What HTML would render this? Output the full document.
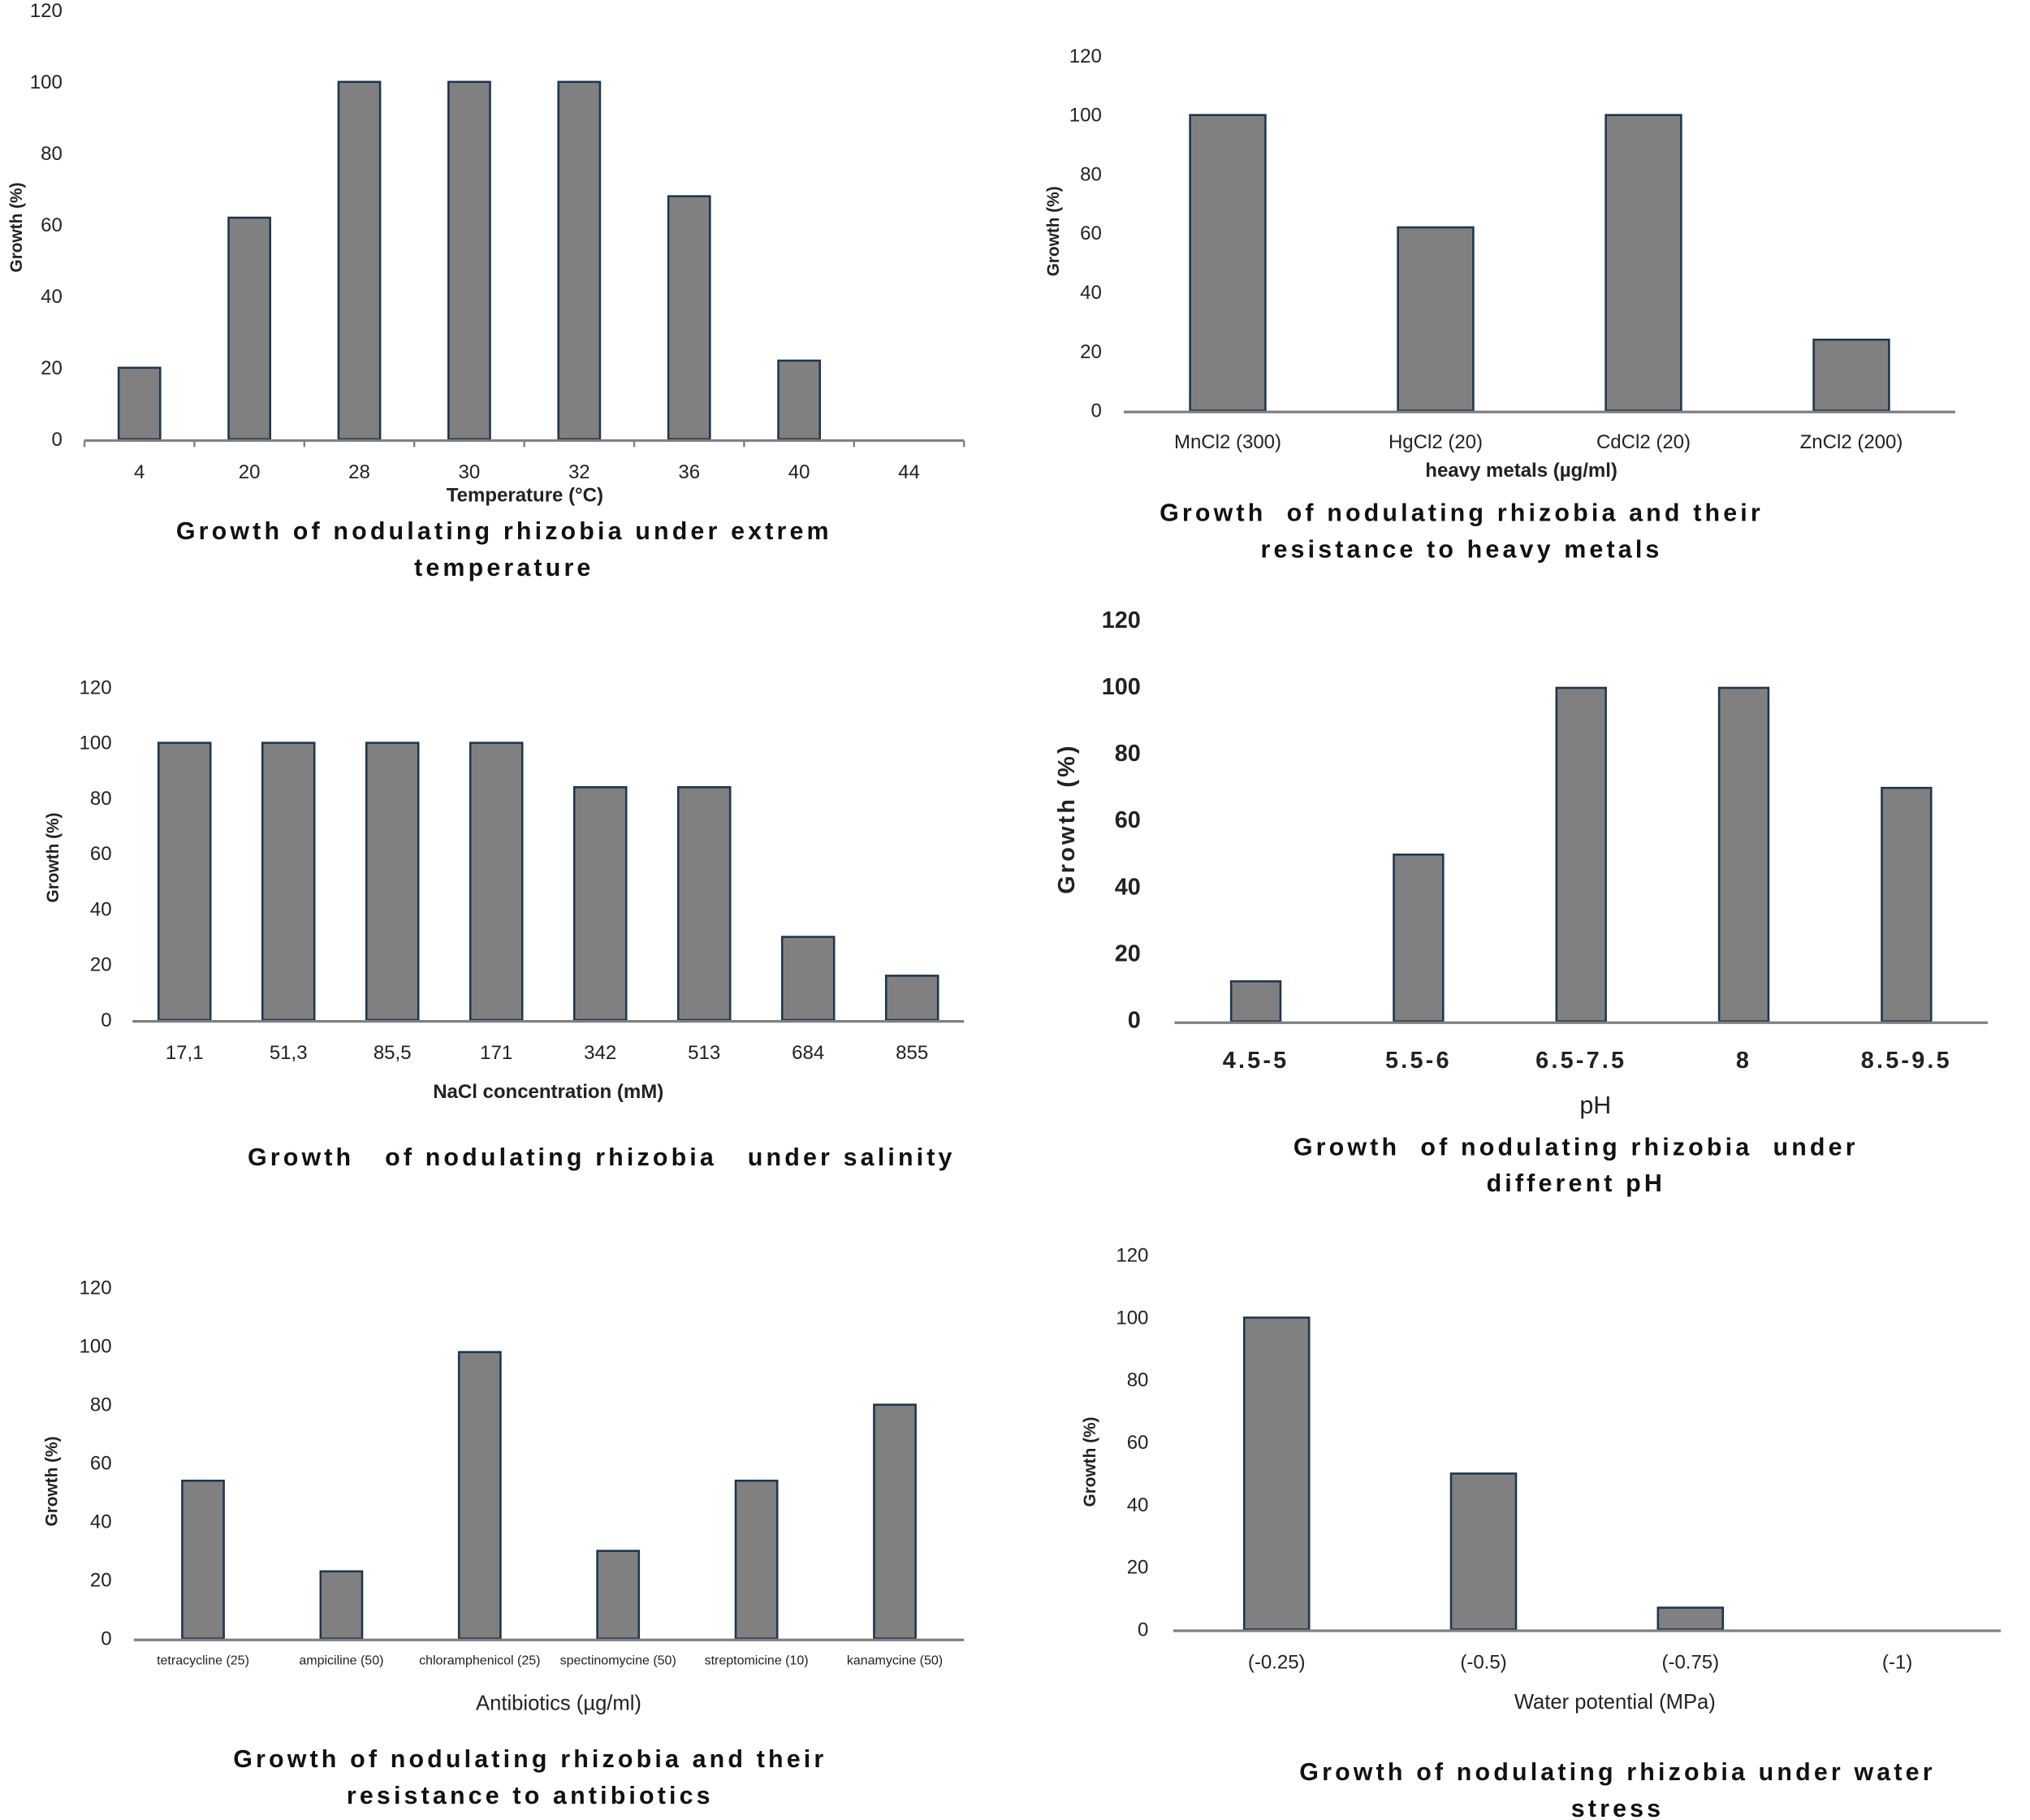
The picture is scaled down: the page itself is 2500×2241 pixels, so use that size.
<!DOCTYPE html>
<html><head><meta charset="utf-8"><style>
html,body{margin:0;padding:0;background:#fff;}
svg{display:block;font-family:"Liberation Sans",sans-serif;}
svg text{white-space:pre;}
</style></head><body>
<svg id="fig" width="2500" height="2241" viewBox="0 0 1562.5 1400.6" xmlns="http://www.w3.org/2000/svg"></svg>
<script>
const tempCats=["4","20","28","30","32","36","40","44"];
const tempVals=[20,62,100,100,100,68,22,0];
const metalCats=["MnCl2 (300)","HgCl2 (20)","CdCl2 (20)","ZnCl2 (200)"];
const metalVals=[100,62,100,24];
const saltCats=["17,1","51,3","85,5","171","342","513","684","855"];
const saltVals=[100,100,100,100,84,84,30,16];
const phCats=["4.5-5","5.5-6","6.5-7.5","8","8.5-9.5"];
const phVals=[12,50,100,100,70];
const abCats=["tetracycline (25)","ampiciline (50)","chloramphenicol (25)","spectinomycine (50)","streptomicine (10)","kanamycine (50)"];
const abVals=[54,23,98,30,54,80];
const waterCats=["(-0.25)","(-0.5)","(-0.75)","(-1)"];
const waterVals=[100,50,7,0];
const yTicks=[0,20,40,60,80,100,120];

const svg=document.getElementById('fig');
const NS="http://www.w3.org/2000/svg";
function mk(tag,attrs,parent,text){const e=document.createElementNS(NS,tag);for(const k in attrs)e.setAttribute(k,attrs[k]);if(text!==undefined)e.textContent=text;parent.appendChild(e);return e;}

function panel(p){
  const g=mk('g',{},svg);
  
  
  const y=v=>p.y0-(v/120)*(p.y0-p.y120);
  const step=(p.x1-p.x0)/p.cats.length;
  const x=i=>p.x0+step*(i+0.5);
  yTicks.forEach(t=>{
    const tl=mk('text',{x:p.tickX,y:y(t)+5,'text-anchor':'end','font-size':p.tfs,'font-weight':p.boldTicks?'bold':'normal',fill:'#222'},g,String(t));
    
    
  });
  p.vals.forEach((v,i)=>{
    if(v<=0)return;
    const r=mk('rect',{x:x(i)-p.bw/2,y:y(v),width:p.bw,height:y(0)-y(v),fill:'#808080',stroke:'#1f3550','stroke-width':1.6},g);
    
    
  });
  const ax=mk('line',{x1:p.x0,x2:p.x1,y1:y(0)+1,y2:y(0)+1,stroke:'#808080','stroke-width':2},g);
  
  
  if(p.ticks){for(let i=0;i<=p.cats.length;i++){mk('line',{x1:p.x0+step*i,x2:p.x0+step*i,y1:y(0)+1,y2:y(0)+6,stroke:'#808080','stroke-width':1.5},g);}}
  p.cats.forEach((c,i)=>{
    const t=mk('text',{x:x(i),y:p.labY,'text-anchor':'middle','font-size':p.lfs,'font-weight':p.boldTicks?'bold':'normal','letter-spacing':p.boldTicks?2:0,fill:'#222'},g,c);
    
    
  });
  const at=mk('text',{x:p.axX,y:p.axY,'text-anchor':'middle','font-size':p.afs,'font-weight':p.axBold?'bold':'normal',fill:'#222'},g,p.axTitle);
  
  
  const yt=mk('text',{x:0,y:0,transform:`translate(${p.ytX},${p.ytY}) rotate(-90)`,'text-anchor':'middle','font-size':p.yfs,'font-weight':'bold','letter-spacing':p.boldTicks?2:0,fill:'#222'},g,'Growth (%)');
  
  
  p.title.forEach((ln,k)=>{
    const tt=mk('text',{x:p.tX,y:p.tY+k*28,'text-anchor':'middle','font-size':19,'font-weight':'bold','letter-spacing':2.6,fill:'#111'},g,ln);
    
    
  });
}
panel({name:'temperature-chart',cats:tempCats,vals:tempVals,x0:65,x1:742,y0:338,y120:8,bw:32,tickX:48,tfs:15,lfs:15,labY:368,axTitle:'Temperature (°C)',axX:404,axY:386,afs:15,axBold:true,ytX:17,ytY:175,yfs:13,tX:388,tY:415,title:['Growth of nodulating rhizobia under extrem','temperature'],ticks:true});
panel({name:'heavy-metals-chart',cats:metalCats,vals:metalVals,x0:865,x1:1505,y0:316,y120:43,bw:58,tickX:848,tfs:15,lfs:15,labY:345,axTitle:'heavy metals (µg/ml)',axX:1171,axY:367,afs:15,axBold:true,ytX:815,ytY:178,yfs:13,tX:1125,tY:401,title:['Growth  of nodulating rhizobia and their','resistance to heavy metals'],ticks:false});
panel({name:'salinity-chart',cats:saltCats,vals:saltVals,x0:102,x1:742,y0:785,y120:529,bw:40,tickX:86,tfs:15,lfs:15,labY:815,axTitle:'NaCl concentration (mM)',axX:422,axY:845,afs:15,axBold:true,ytX:45,ytY:660,yfs:13,tX:463,tY:897,title:['Growth   of nodulating rhizobia   under salinity'],ticks:false});
panel({name:'ph-chart',cats:phCats,vals:phVals,x0:904,x1:1530,y0:786,y120:478,bw:38,tickX:878,tfs:18,lfs:18,labY:822,axTitle:'pH',axX:1228,axY:857,afs:19,axBold:false,ytX:827,ytY:630,yfs:18,tX:1213,tY:889,title:['Growth  of nodulating rhizobia  under','different pH'],ticks:false,boldTicks:true});
panel({name:'antibiotics-chart',cats:abCats,vals:abVals,x0:103,x1:742,y0:1261,y120:991,bw:32,tickX:86,tfs:15,lfs:10,labY:1281,axTitle:'Antibiotics (µg/ml)',axX:430,axY:1316,afs:16,axBold:false,ytX:44,ytY:1140,yfs:13,tX:408,tY:1360,title:['Growth of nodulating rhizobia and their','resistance to antibiotics'],ticks:false});
panel({name:'water-stress-chart',cats:waterCats,vals:waterVals,x0:903,x1:1540,y0:1254,y120:966,bw:50,tickX:884,tfs:15,lfs:15,labY:1284,axTitle:'Water potential (MPa)',axX:1243,axY:1315,afs:16,axBold:false,ytX:843,ytY:1125,yfs:13,tX:1245,tY:1370,title:['Growth of nodulating rhizobia under water','stress'],ticks:false});
</script>
</body></html>
